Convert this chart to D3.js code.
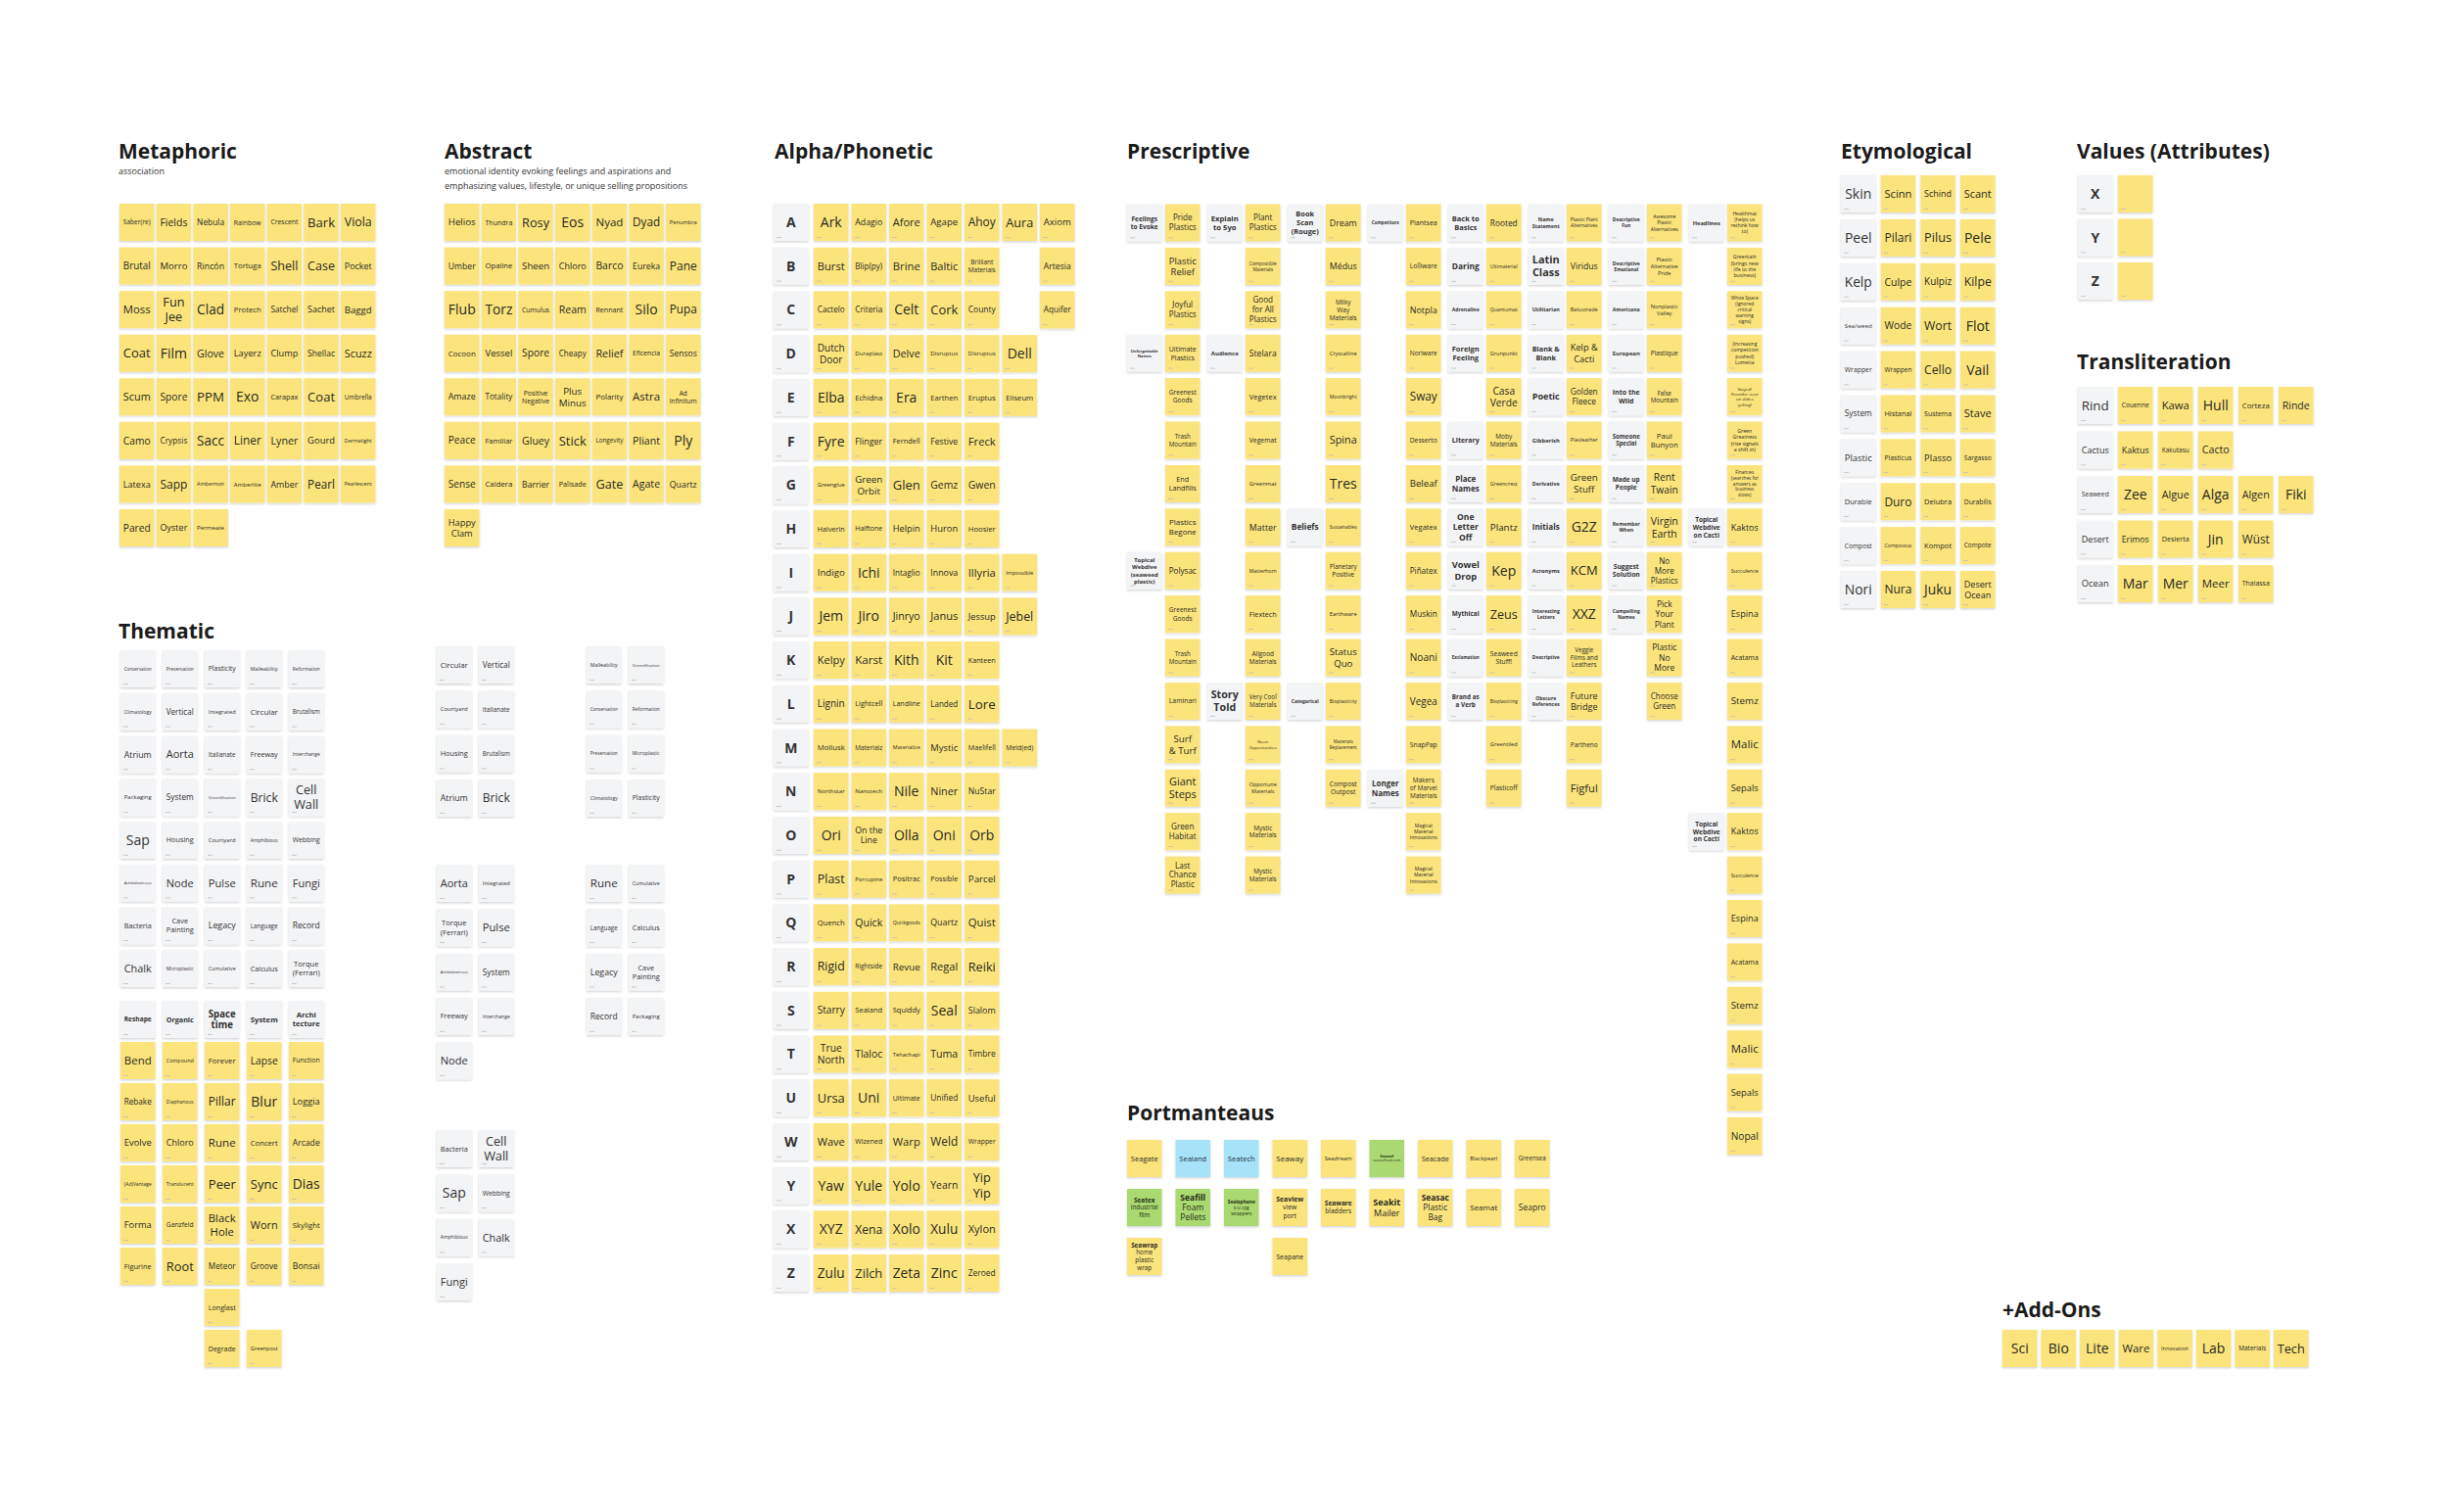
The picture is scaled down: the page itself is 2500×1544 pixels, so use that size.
<!DOCTYPE html>
<html lang="en">
<head>
<meta charset="UTF-8">
<title>Naming Board</title>
<script src="https://d3js.org/d3.v7.min.js"></script>
<style>
  body { margin: 0; background: #ffffff; }
  svg { display: block; font-family: "Open Sans", "Noto Sans", sans-serif; }
</style>
</head>
<body>
<svg id="board" width="2500" height="1544"></svg>
<script>
// ---- board content ----
const metaphoric = [
  ["Saber(re)", "Fields", "Nebula", "Rainbow", "Crescent", "Bark", "Viola"],
  ["Brutal", "Morro", "Rincón", "Tortuga", "Shell", "Case", "Pocket"],
  ["Moss", "Fun\nJee", "Clad", "Protech", "Satchel", "Sachet", "Baggd"],
  ["Coat", "Film", "Glove", "Layerz", "Clump", "Shellac", "Scuzz"],
  ["Scum", "Spore", "PPM", "Exo", "Carapax", "Coat", "Umbrella"],
  ["Camo", "Crypsis", "Sacc", "Liner", "Lyner", "Gourd", "Dermalight"],
  ["Latexa", "Sapp", "Ambernon", "Amberlite", "Amber", "Pearl", "Pearlescent"],
  ["Pared", "Oyster", "Permeate"]
];

const abstract = [
  ["Helios", "Thundra", "Rosy", "Eos", "Nyad", "Dyad", "Penumbra"],
  ["Umber", "Opaline", "Sheen", "Chloro", "Barco", "Eureka", "Pane"],
  ["Flub", "Torz", "Cumulus", "Ream", "Rennant", "Silo", "Pupa"],
  ["Cocoon", "Vessel", "Spore", "Cheapy", "Relief", "Eficencia", "Sensos"],
  ["Amaze", "Totality", "Positive\nNegative", "Plus\nMinus", "Polarity", "Astra", "Ad\nInfinitum"],
  ["Peace", "Familiar", "Gluey", "Stick", "Longevity", "Pliant", "Ply"],
  ["Sense", "Caldera", "Barrier", "Palisade", "Gate", "Agate", "Quartz"],
  ["Happy\nClam"]
];

const thematic = [
  ["Conservation", "Preservation", "Plasticity", "Malleability", "Reformation"],
  ["Climatology", "Vertical", "Integrated", "Circular", "Brutalism"],
  ["Atrium", "Aorta", "Italianate", "Freeway", "Interchange"],
  ["Packaging", "System", "Greenification", "Brick", "Cell\nWall"],
  ["Sap", "Housing", "Courtyard", "Amphibious", "Webbing"],
  ["Ambidextrous", "Node", "Pulse", "Rune", "Fungi"],
  ["Bacteria", "Cave\nPainting", "Legacy", "Language", "Record"],
  ["Chalk", "Microplastic", "Cumulative", "Calculus", "Torque\n(Ferrari)"],
  ["Reshape", "Organic", "Space\ntime", "System", "Archi\ntecture"],
  ["Bend", "Compound", "Forever", "Lapse", "Function"],
  ["Rebake", "Diaphanous", "Pillar", "Blur", "Loggia"],
  ["Evolve", "Chloro", "Rune", "Concert", "Arcade"],
  ["(Ad)Vantage", "Translucent", "Peer", "Sync", "Dias"],
  ["Forma", "Ganzfeld", "Black\nHole", "Worn", "Skylight"],
  ["Figurine", "Root", "Meteor", "Groove", "Bonsai"],
  [null, null, "Longlast"],
  [null, null, "Degrade", "Greenpost"]
];

const clusterArch = [["Circular", "Vertical"], ["Courtyard", "Italianate"], ["Housing", "Brutalism"], ["Atrium", "Brick"]];
const clusterEnv = [["Malleability", "Greenification"], ["Conservation", "Reformation"], ["Preservation", "Microplastic"], ["Climatology", "Plasticity"]];
const clusterBody = [["Aorta", "Integrated"], ["Torque\n(Ferrari)", "Pulse"], ["Ambidextrous", "System"], ["Freeway", "Interchange"], ["Node"]];
const clusterHistory = [["Rune", "Cumulative"], ["Language", "Calculus"], ["Legacy", "Cave\nPainting"], ["Record", "Packaging"]];
const clusterNature = [["Bacteria", "Cell\nWall"], ["Sap", "Webbing"], ["Amphibious", "Chalk"], ["Fungi"]];

const alphaLetters = ["A", "B", "C", "D", "E", "F", "G", "H", "I", "J", "K", "L", "M",
  "N", "O", "P", "Q", "R", "S", "T", "U", "W", "Y", "X", "Z"];
const alphaWords = [
  ["Ark", "Adagio", "Afore", "Agape", "Ahoy", "Aura", "Axiom"],
  ["Burst", "Blip(py)", "Brine", "Baltic", "Brilliant\nMaterials", null, "Artesia"],
  ["Cactelo", "Criteria", "Celt", "Cork", "County", null, "Aquifer"],
  ["Dutch\nDoor", "Duraplast", "Delve", "Disruptus", "Disruptus", "Dell"],
  ["Elba", "Echidna", "Era", "Earthen", "Eruptus", "Eliseum"],
  ["Fyre", "Flinger", "Ferndell", "Festive", "Freck"],
  ["Greenglue", "Green\nOrbit", "Glen", "Gemz", "Gwen"],
  ["Halverin", "Halftone", "Helpin", "Huron", "Hoosier"],
  ["Indigo", "Ichi", "Intaglio", "Innova", "Illyria", "Impossible"],
  ["Jem", "Jiro", "Jinryo", "Janus", "Jessup", "Jebel"],
  ["Kelpy", "Karst", "Kith", "Kit", "Kanteen"],
  ["Lignin", "Lightcell", "Landline", "Landed", "Lore"],
  ["Mollusk", "Materialz", "Materialize", "Mystic", "Maelifell", "Meld(ed)"],
  ["Northstar", "Nanotech", "Nile", "Niner", "NuStar"],
  ["Ori", "On the\nLine", "Olla", "Oni", "Orb"],
  ["Plast", "Porcupine", "Positrac", "Possible", "Parcel"],
  ["Quench", "Quick", "Quickgoods", "Quartz", "Quist"],
  ["Rigid", "Rightside", "Revue", "Regal", "Reiki"],
  ["Starry", "Sealand", "Squiddy", "Seal", "Slalom"],
  ["True\nNorth", "Tlaloc", "Tehachapi", "Tuma", "Timbre"],
  ["Ursa", "Uni", "Ultimate", "Unified", "Useful"],
  ["Wave", "Wizened", "Warp", "Weld", "Wrapper"],
  ["Yaw", "Yule", "Yolo", "Yearn", "Yip\nYip"],
  ["XYZ", "Xena", "Xolo", "Xulu", "Xylon"],
  ["Zulu", "Zilch", "Zeta", "Zinc", "Zeroed"]
];

const gap = n => Array(n).fill(null);
// columns, read top to bottom: label column then its ideas column
const prescriptiveCols = [
  ["Feelings\nto Evoke", null, null, "Unforgettable\nNames", ...gap(4), "Topical\nWebdive\n(seaweed\nplastic)"],
  ["Pride\nPlastics", "Plastic\nRelief", "Joyful\nPlastics", "Ultimate\nPlastics", "Greenest\nGoods", "Trash\nMountain",
   "End\nLandfills", "Plastics\nBegone", "Polysac", "Greenest\nGoods", "Trash\nMountain", "Laminari",
   "Surf\n& Turf", "Giant\nSteps", "Green\nHabitat", "Last\nChance\nPlastic"],
  ["Explain\nto 5yo", null, null, "Audience", ...gap(7), "Story\nTold"],
  ["Plant\nPlastics", "Compostible\nMaterials", "Good\nfor All\nPlastics", "Stelara", "Vegetex", "Vegemat",
   "Greenmat", "Matter", "Matterhorn", "Flextech", "Allgood\nMaterials", "Very Cool\nMaterials",
   "Neon\nOpportunities", "Opportune\nMaterials", "Mystic\nMaterials", "Mystic\nMaterials"],
  ["Book\nScan\n(Rouge)", ...gap(6), "Beliefs", ...gap(3), "Categorical"],
  ["Dream", "Médus", "Milky\nWay\nMaterials", "Crystalline", "Moonbright", "Spina", "Tres", "Sustainables",
   "Planetary\nPositive", "Earthware", "Status\nQuo", "Bioplasticity", "Materials\nReplacement", "Compost\nOutpost"],
  ["Competitors", ...gap(12), "Longer\nNames"],
  ["Plantsea", "Lolliware", "Notpla", "Noriware", "Sway", "Desserto", "Beleaf", "Vegatex", "Piñatex",
   "Muskin", "Noani", "Vegea", "SnapPap", "Makers\nof Marvel\nMaterials", "Magical\nMaterial\nInnovations",
   "Magical\nMaterial\nInnovations"],
  ["Back to\nBasics", "Daring", "Adrenaline", "Foreign\nFeeling", null, "Literary", "Place\nNames",
   "One\nLetter\nOff", "Vowel\nDrop", "Mythical", "Exclamation", "Brand as\na Verb"],
  ["Rooted", "Ultimaterial", "Quantumat", "Grunpunkt", "Casa\nVerde", "Moby\nMaterials", "Greencrest",
   "Plantz", "Kep", "Zeus", "Seaweed\nStuff!", "Bioplasticing", "Greentiled", "Plasticoff"],
  ["Name\nStatement", "Latin\nClass", "Utilitarian", "Blank &\nBlank", "Poetic", "Gibberish", "Derivative",
   "Initials", "Acronyms", "Interesting\nLetters", "Descriptive", "Obscure\nReferences"],
  ["Plastic Plant\nAlternatives", "Viridus", "Balustrade", "Kelp &\nCacti", "Golden\nFleece", "Plasleather",
   "Green\nStuff", "G2Z", "KCM", "XXZ", "Veggie\nFilms and\nLeathers", "Future\nBridge", "Partheno", "Figful"],
  ["Descriptive\nFun", "Descriptive\nEmotional", "Americana", "European", "Into the\nWild", "Someone\nSpecial",
   "Made up\nPeople", "Remember\nWhen", "Suggest\nSolution", "Compelling\nNames"],
  ["Awesome\nPlastic\nAlternatives", "Plastic\nAlternative\nPride", "Nonplastic\nValley", "Plastique",
   "False\nMountain", "Paul\nBunyon", "Rent\nTwain", "Virgin\nEarth", "No\nMore\nPlastics", "Pick\nYour\nPlant",
   "Plastic\nNo\nMore", "Choose\nGreen"],
  ["Headlines", ...gap(6), "Topical\nWebdive\non Cacti", ...gap(6), "Topical\nWebdive\non Cacti"],
  ["Healthmat\n(helps us\nrethink how\nto)", "Greentain\n(brings new\nlife to the\nbusiness)",
   "White Space\n(ignored\ncritical\nwarning\nsigns)", "(Increasing\ncompetition\npushed)\nLumetta",
   "Stayed!\n(founder seen\non slides\nyelling)", "Green\nGreatness\n(rise signals\na shift in)",
   "Finances\n(searches for\nanswers as\nbusiness\nslows)", "Kaktos", "Succulence", "Espina", "Acatama",
   "Stemz", "Malic", "Sepals", "Kaktos", "Succulence", "Espina", "Acatama", "Stemz", "Malic", "Sepals", "Nopal"]
];

const portmanteaus = [
  ["Seagate", "Sealand", "Seatech", "Seaway", "Seadream", "Seaseaf\nseaseafoam.com", "Seacade", "Blackpearl", "Greensea"],
  ["Seatex\nindustrial\nfilm", "Seafill\nFoam\nPellets", "Sealophane\ns-u cpg\nwrappers", "Seaview\nview\nport",
   "Seaware\nbladders", "Seakit\nMailer", "Seasac\nPlastic\nBag", "Seamat", "Seapro"],
  ["Seawrap\nhome\nplastic\nwrap", null, null, "Seapane"]
];
const portBlue = ["Sealand", "Seatech"];
const portGreen = ["Seaseaf\nseaseafoam.com", "Seatex\nindustrial\nfilm", "Seafill\nFoam\nPellets", "Sealophane\ns-u cpg\nwrappers"];

const etymological = [
  ["Skin", "Scinn", "Schind", "Scant"],
  ["Peel", "Pilari", "Pilus", "Pele"],
  ["Kelp", "Culpe", "Kulpiz", "Kilpe"],
  ["Sea/weed", "Wode", "Wort", "Flot"],
  ["Wrapper", "Wrappen", "Cello", "Vail"],
  ["System", "Histanai", "Sustema", "Stave"],
  ["Plastic", "Plasticus", "Plasso", "Sargasso"],
  ["Durable", "Duro", "Delubra", "Durabilis"],
  ["Compost", "Compostus", "Kompot", "Compote"],
  ["Nori", "Nura", "Juku", "Desert\nOcean"]
];

const valueAttrs = [["X", ""], ["Y", ""], ["Z", ""]];

const transliteration = [
  ["Rind", "Couenne", "Kawa", "Hull", "Corteza", "Rinde"],
  ["Cactus", "Kaktus", "Kakutasu", "Cacto"],
  ["Seaweed", "Zee", "Algue", "Alga", "Algen", "Fiki"],
  ["Desert", "Erimos", "Desierta", "Jin", "Wüst"],
  ["Ocean", "Mar", "Mer", "Meer", "Thalassa"]
];

const addOns = [["Sci", "Bio", "Lite", "Ware", "Innovation", "Lab", "Materials", "Tech"]];

// ---- drawing ----
const NOTE_W = 35.5, NOTE_H = 38;
const fills = { y: "#FBE47C", w: "#F3F4F6", b: "#A6E3F8", g: "#AAD871" };
const inks = { y: "#2a2a22", w: "#333333", b: "#1f3140", g: "#1f2e14" };

const svg = d3.select("#board");
svg.append("rect").attr("width", 2500).attr("height", 1544).attr("fill", "#ffffff");

svg.append("defs").append("filter")
    .attr("id", "shadow").attr("x", "-20%").attr("y", "-20%").attr("width", "140%").attr("height", "150%")
  .append("feDropShadow")
    .attr("dx", 0).attr("dy", 1.3).attr("stdDeviation", 1.1)
    .attr("flood-color", "#000").attr("flood-opacity", 0.17);

const ctx = document.createElement("canvas").getContext("2d");
function emWidth(s, weight) {
  ctx.font = `${weight} 10px "Open Sans"`;
  return ctx.measureText(s).width / 10;
}

// flatten a list of rows into note records
function cellsFromRows(rows) {
  const out = [];
  rows.forEach((row, r) => row.forEach((label, c) => {
    if (label !== null) out.push({ label, r, c });
  }));
  return out;
}
function cellsFromCols(cols) {
  const out = [];
  cols.forEach((col, c) => col.forEach((label, r) => {
    if (label !== null) out.push({ label, r, c });
  }));
  return out;
}

function drawNotes(cfg) {
  const layer = svg.append("g").attr("class", cfg.name);
  const notes = layer.selectAll("g.note")
    .data(cfg.cells)
    .join("g")
      .attr("class", "note")
      .attr("transform", d => `translate(${cfg.x(d)},${cfg.y(d)})`);

  notes.append("rect")
    .attr("width", NOTE_W).attr("height", NOTE_H)
    .attr("fill", d => fills[cfg.kind(d)])
    .attr("filter", "url(#shadow)");

  if (cfg.mark) {
    notes.append("rect")
      .attr("x", 3).attr("y", NOTE_H - 4).attr("width", 5).attr("height", 0.7)
      .attr("fill", "#b9b9b9");
  }

  notes.each(function(d) {
    if (!d.label) return;
    const lines = d.label.split("\n");
    const weights = lines.map((l, i) => cfg.weight(d, i, lines.length));
    const em = d3.max(lines, (l, i) => emWidth(l, weights[i]));
    const size = Math.min(cfg.max || 14, 28 / em, 31 / (lines.length * 1.22));
    const lh = size * 1.22;
    d3.select(this).selectAll("text")
      .data(lines)
      .join("text")
        .attr("x", NOTE_W / 2)
        .attr("y", (l, i) => NOTE_H / 2 + (i - (lines.length - 1) / 2) * lh + size * 0.36)
        .attr("text-anchor", "middle")
        .attr("font-size", size.toFixed(2))
        .attr("font-weight", (l, i) => weights[i])
        .attr("fill", inks[cfg.kind(d)])
        .text(l => l);
  });
}

function title(text, x, y, subs) {
  svg.append("text").attr("x", x).attr("y", y)
    .attr("font-size", 21).attr("font-weight", 700).attr("fill", "#1b1b1b").text(text);
  (subs || []).forEach((s, i) => svg.append("text")
    .attr("x", x).attr("y", y + 16 + i * 14.5)
    .attr("font-size", 9).attr("fill", "#333").text(s));
}

const regular = () => 400;
const boldAll = () => 700;

// Metaphoric
title("Metaphoric", 121, 162, ["association"]);
{
  const x = d3.scaleLinear().domain([0, 6]).range([122, 348]);
  const y = d3.scaleLinear().domain([0, 7]).range([208, 520]);
  drawNotes({ name: "metaphoric", cells: cellsFromRows(metaphoric), x: d => x(d.c), y: d => y(d.r),
    kind: () => "y", weight: regular, mark: false });
}

// Abstract
title("Abstract", 454, 162, ["emotional identity evoking feelings and aspirations and",
  "emphasizing values, lifestyle, or unique selling propositions"]);
{
  const x = d3.scaleLinear().domain([0, 6]).range([454, 680]);
  const y = d3.scaleLinear().domain([0, 7]).range([208, 520]);
  drawNotes({ name: "abstract", cells: cellsFromRows(abstract), x: d => x(d.c), y: d => y(d.r),
    kind: () => "y", weight: regular, mark: false });
}

// Thematic
title("Thematic", 121, 652);
{
  const x = d3.scaleLinear().domain([0, 4]).range([123, 295]);
  const yTop = d3.scaleLinear().domain([0, 7]).range([664, 970]);
  const yLow = d3.scaleLinear().domain([8, 16]).range([1022, 1358]);
  drawNotes({ name: "thematic", cells: cellsFromRows(thematic), x: d => x(d.c),
    y: d => d.r < 8 ? yTop(d.r) : yLow(d.r),
    kind: d => d.r <= 8 ? "w" : "y",
    weight: d => d.r === 8 ? 700 : 400, mark: true });

  const clusters = [
    [clusterArch, 446, 660], [clusterEnv, 599, 660], [clusterBody, 446, 883],
    [clusterHistory, 599, 883], [clusterNature, 446, 1154]
  ];
  clusters.forEach(([rows, x0, y0], k) => {
    const cx = d3.scaleLinear().domain([0, 1]).range([x0, x0 + 43]);
    const cy = d3.scaleLinear().domain([0, 1]).range([y0, y0 + 45.3]);
    drawNotes({ name: "cluster" + k, cells: cellsFromRows(rows), x: d => cx(d.c), y: d => cy(d.r),
      kind: () => "w", weight: regular, mark: true });
  });
}

// Alpha/Phonetic
title("Alpha/Phonetic", 791, 162);
{
  const rows = alphaLetters.map((L, i) => [L, ...alphaWords[i]]);
  const x = d3.scaleLinear().domain([1, 7]).range([831, 1062]);
  const y = d3.scaleLinear().domain([0, alphaLetters.length - 1]).range([208, 1281]);
  drawNotes({ name: "alpha", cells: cellsFromRows(rows), x: d => d.c === 0 ? 790 : x(d.c), y: d => y(d.r),
    kind: d => d.c === 0 ? "w" : "y", weight: d => d.c === 0 ? 700 : 400, mark: true });
}

// Prescriptive
title("Prescriptive", 1151, 162);
{
  const pair = d3.scaleLinear().domain([0, 7]).range([1151, 1725]);
  const y = d3.scaleLinear().domain([0, 21]).range([208.5, 1141]);
  drawNotes({ name: "prescriptive", cells: cellsFromCols(prescriptiveCols),
    x: d => pair(Math.floor(d.c / 2)) + (d.c % 2) * 39, y: d => y(d.r),
    kind: d => d.c % 2 === 0 ? "w" : "y", weight: d => d.c % 2 === 0 ? 700 : 400, mark: true });
}

// Portmanteaus
title("Portmanteaus", 1151, 1144);
{
  const x = d3.scaleLinear().domain([0, 8]).range([1151, 1547]);
  const y = d3.scaleLinear().domain([0, 2]).range([1164, 1264]);
  drawNotes({ name: "portmanteaus", cells: cellsFromRows(portmanteaus), x: d => x(d.c), y: d => y(d.r),
    kind: d => portBlue.includes(d.label) ? "b" : portGreen.includes(d.label) ? "g" : "y",
    weight: (d, i, n) => (n > 1 && i === 0) ? 700 : 400, mark: false });
}

// Etymological
title("Etymological", 1880, 162);
{
  const x = d3.scaleLinear().domain([0, 3]).range([1880, 2002]);
  const y = d3.scaleLinear().domain([0, 9]).range([179, 583]);
  drawNotes({ name: "etymological", cells: cellsFromRows(etymological), x: d => x(d.c), y: d => y(d.r),
    kind: d => d.c === 0 ? "w" : "y", weight: regular, mark: true });
}

// Values (Attributes)
title("Values (Attributes)", 2121, 162);
{
  const x = d3.scaleLinear().domain([0, 1]).range([2122, 2163]);
  const y = d3.scaleLinear().domain([0, 2]).range([179, 268]);
  drawNotes({ name: "values", cells: cellsFromRows(valueAttrs), x: d => x(d.c), y: d => y(d.r),
    kind: d => d.c === 0 ? "w" : "y", weight: boldAll, mark: true });
}

// Transliteration
title("Transliteration", 2121, 377);
{
  const x = d3.scaleLinear().domain([0, 5]).range([2122, 2327]);
  const y = d3.scaleLinear().domain([0, 4]).range([395, 577]);
  drawNotes({ name: "transliteration", cells: cellsFromRows(transliteration), x: d => x(d.c), y: d => y(d.r),
    kind: d => d.c === 0 ? "w" : "y", weight: regular, mark: true });
}

// +Add-Ons
title("+Add-Ons", 2045, 1345);
{
  const x = d3.scaleLinear().domain([0, 7]).range([2045, 2322]);
  drawNotes({ name: "addons", cells: cellsFromRows(addOns), x: d => x(d.c), y: () => 1358,
    kind: () => "y", weight: regular, mark: false });
}
</script>
</body>
</html>
